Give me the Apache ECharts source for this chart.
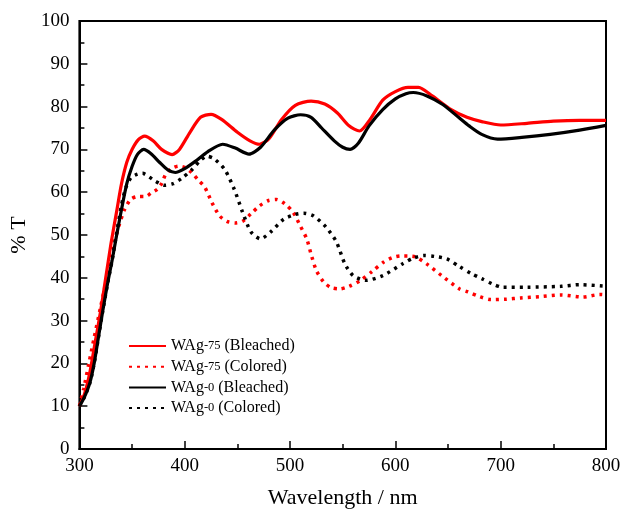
<!DOCTYPE html>
<html>
<head>
<meta charset="utf-8">
<script src="https://cdn.jsdelivr.net/npm/echarts@6/dist/echarts.min.js"></script>
<style>html,body{margin:0;padding:0;background:#fff}#c{width:625px;height:514px}</style>
</head>
<body>
<div id="c"></div>
<script>
const xTicks = [300, 400, 500, 600, 700, 800];
const yTicks = [0, 10, 20, 30, 40, 50, 60, 70, 80, 90, 100];
const seriesNames = ['WAg-75 (Bleached)', 'WAg-75 (Colored)', 'WAg-0 (Bleached)', 'WAg-0 (Colored)'];

const wag75Bleached = [[300,10],[305,13],[310,18],[315,25],[320,32],[325,40],[330,48],[335,55],[340,62],[345,67],[350,70],[356,72.3],[362,73.1],[370,72],[378,70],[388,68.8],[395,70],[405,74],[415,77.5],[425,78.2],[435,77],[450,74],[462,72],[471,71.2],[480,72.5],[492,77],[505,80.3],[520,81.3],[533,80.6],[545,78.5],[556,75.5],[566,74.3],[576,77],[588,81.5],[600,83.5],[612,84.5],[622,84.5],[635,82.5],[653,79.3],[668,77.5],[682,76.5],[700,75.7],[725,76.1],[750,76.6],[775,76.8],[800,76.8]];

const wag75Colored = [[300,10],[304,14],[309,20],[314,26],[320,33],[326,40],[332,47],[338,52.5],[343,56],[349,58.4],[356,59],[363,59],[368,59.8],[374,60.7],[378,62],[382,64.2],[388,65.6],[394,66.1],[400,65.8],[407,64.5],[413,62.8],[419,61.2],[426,57.5],[433,54.5],[440,53.2],[448,52.8],[455,53.2],[463,55],[471,56.8],[479,58],[487,58.3],[495,57.3],[503,55.3],[510,52],[516,49],[520,45.5],[525,41.7],[532,39],[539,37.7],[547,37.4],[556,38],[567,39.4],[578,41.5],[589,43.7],[597,44.7],[605,45.1],[612,45.1],[619,44.9],[630,43.2],[644,40.5],[661,37.4],[669,36.7],[680,35.6],[691,34.9],[705,35],[719,35.3],[737,35.6],[757,36],[778,35.5],[794,36.1],[800,36]];

const wag0Bleached = [[300,10],[303,11.3],[306,12.8],[310,15.5],[314,20],[318,26],[322,32],[327,39],[331,44],[335,49.5],[340,56],[345,62],[350,66],[355,68.8],[361,70],[368,69],[376,67],[384,65.2],[391,64.6],[400,65.5],[410,67.2],[422,69.5],[436,71.2],[448,70.3],[461,68.9],[472,70.5],[485,74.5],[498,77.3],[510,78.1],[520,77.5],[530,75],[542,72],[550,70.5],[557,70],[565,71.5],[575,75.5],[588,79.3],[600,81.8],[610,83],[617,83.3],[630,82.5],[645,80.5],[660,77.5],[670,75.5],[682,73.5],[697,72.4],[720,72.8],[747,73.5],[775,74.5],[800,75.6]];

const wag0Colored = [[300,10],[303,11.3],[306,12.8],[310,15.5],[314,20],[318,26],[322,32],[327,39],[331,44],[335,50],[340,57],[344,61],[349,63.4],[355,64.2],[360,64.4],[366,63.6],[372,62.6],[381,61.6],[389,62],[397,63.2],[407,65.3],[414,67.2],[421,68.4],[428,67.8],[438,65.3],[447,60.7],[455,55.3],[463,50.7],[472,49.1],[482,50.8],[494,53.7],[505,54.8],[513,55.1],[522,54.5],[534,51.9],[544,48.4],[552,43.3],[560,40.5],[572,39.4],[588,40.5],[607,43.3],[617,44.6],[627,45.2],[637,45],[649,44.4],[661,42.6],[672,41],[682,39.8],[692,38.6],[702,37.8],[725,37.8],[757,38],[775,38.4],[797,38.1],[800,38]];

const FONT = '"Liberation Serif", "Times New Roman", serif';
const chart = echarts.init(document.getElementById('c'), null, {renderer: 'canvas'});

function mk(name, data, color, dotted) {
  return {
    name: name, type: 'line', data: data, smooth: 0.25, symbol: 'none',
    lineStyle: dotted ? {color: color, width: 3.5, type: [3, 5]} : {color: color, width: 3.2},
    itemStyle: {color: color},
    z: dotted ? 2 : 3
  };
}

const axisCommon = {
  axisLine: {show: true, lineStyle: {color: '#000', width: 2}},
  axisTick: {show: true, inside: true, length: 8, lineStyle: {color: '#000', width: 1.5}},
  minorTick: {show: true, splitNumber: 2, length: 5, lineStyle: {color: '#000', width: 1.5}},
  splitLine: {show: false},
  axisLabel: {color: '#000', fontFamily: FONT, fontSize: 19}
};

chart.setOption({
  backgroundColor: '#fff',
  animation: false,
  grid: {left: 73, top: 21, width: 533, height: 430, show: true, borderColor: '#000', borderWidth: 2, backgroundColor: 'transparent'},
  legend: {
    orient: 'vertical', left: 128, top: 338, padding: 0, itemWidth: 37, itemHeight: 14, itemGap: 4.7,
    data: seriesNames,
    itemStyle: {opacity: 0, borderWidth: 0},
    formatter: function (n) {
      const m = n.match(/^WAg(-\d+)(.*)$/);
      return '{a|WAg}{b|' + m[1] + '}{a|' + m[2] + '}';
    },
    textStyle: {
      color: '#000', fontFamily: FONT, fontSize: 16, padding: [0, 0, 0, 0],
      rich: {a: {fontFamily: FONT, fontSize: 16, color: '#000'}, b: {fontFamily: FONT, fontSize: 12.5, color: '#000'}}
    }
  },
  xAxis: Object.assign({}, axisCommon, {
    type: 'value', min: 300, max: 800, interval: 100,
    name: 'Wavelength / nm', nameLocation: 'middle', nameGap: 38,
    nameTextStyle: {color: '#000', fontFamily: FONT, fontSize: 22},
    axisLabel: Object.assign({}, axisCommon.axisLabel, {margin: 8, formatter: function (v) { return xTicks.indexOf(v) >= 0 ? String(v) : ''; }})
  }),
  yAxis: Object.assign({}, axisCommon, {
    type: 'value', min: 0, max: 100, interval: 10,
    name: '% T', nameLocation: 'middle', nameGap: 38,
    nameTextStyle: {color: '#000', fontFamily: FONT, fontSize: 22},
    axisLabel: Object.assign({}, axisCommon.axisLabel, {margin: 10, formatter: function (v) { return yTicks.indexOf(v) >= 0 ? String(v) : ''; }})
  }),
  series: [
    mk(seriesNames[0], wag75Bleached, '#ff0000', false),
    mk(seriesNames[1], wag75Colored, '#ff0000', true),
    mk(seriesNames[2], wag0Bleached, '#000000', false),
    mk(seriesNames[3], wag0Colored, '#000000', true)
  ]
});
</script>
</body>
</html>
